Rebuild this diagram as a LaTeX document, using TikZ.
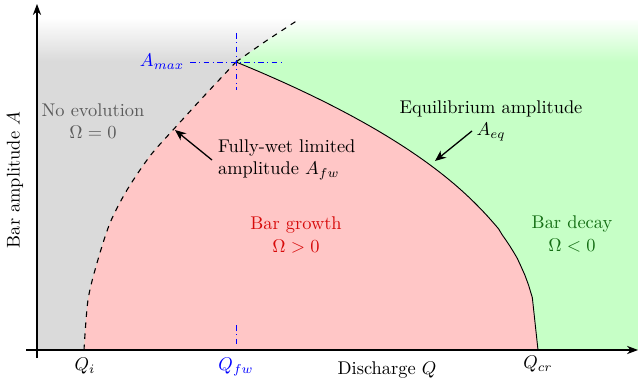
\documentclass[tikz,border=0pt]{standalone}
\usetikzlibrary{arrows.meta,fadings}
\tikzfading[name=topfade, top color=transparent!0, bottom color=transparent!100]
\definecolor{greyfill}{RGB}{218,218,218}
\definecolor{redfill}{RGB}{255,198,198}
\definecolor{greenfill}{RGB}{198,255,198}
\definecolor{greentext}{RGB}{20,110,20}
\definecolor{redtext}{RGB}{215,10,10}
\definecolor{greytext}{RGB}{90,90,90}
\begin{document}
\begin{tikzpicture}[x=0.5435pt,y=-0.5435pt,
  axis/.style={line width=0.6pt,-{Stealth[length=6pt,width=4.5pt]}},
  limline/.style={dashed,line width=0.6pt},
  eqline/.style={line width=0.5pt},
  marker/.style={blue,dash dot,line width=0.5pt},
  note/.style={line width=0.7pt,-{Stealth[length=6pt,width=5pt]}},
  lbl/.style={inner sep=1pt,font=\fontsize{10}{12}\selectfont}]
\useasboundingbox (0,0) rectangle (638,381);
% regions
\fill[greenfill] (37,20) rectangle (638,350);
\fill[greyfill] (37,350) -- (84,350)
  -- plot[smooth] coordinates {(84,350) (88,300) (97,263) (110,223) (127,190) (150,156) (173,130) (205,95) (236,62)}
  -- plot[smooth] coordinates {(236,62) (266,41) (300,19)}
  -- (37,19) -- cycle;
\fill[redfill] (84,350)
  -- plot[smooth] coordinates {(84,350) (88,300) (97,263) (110,223) (127,190) (150,156) (173,130) (205,95) (236,62)}
  -- plot[domain=1:0.018,samples=80,variable=\t] ({538-302*\t},{350-288*(\t)^0.43})
  -- (538,350) -- cycle;
\fill[white,path fading=topfade] (37,18) rectangle (638,62);
% curves
\draw[limline] plot[smooth] coordinates {(84,350) (88,300) (97,263) (110,223) (127,190) (150,156) (173,130) (205,95) (236,62)};
\draw[limline] plot[smooth] coordinates {(236,62) (266,41) (298,20)};
\draw[eqline] plot[domain=1:0.018,samples=80,variable=\t] ({538-302*\t},{350-288*(\t)^0.43}) -- (538,350);
% axes
\coordinate (yb) at (37,358);
\coordinate (yt) at (37,4);
\coordinate (xl) at (26,350);
\coordinate (xr) at (638,350);
\draw[axis] (yb) -- (yt);
\draw[axis] (xl) -- (xr);
% markers
\coordinate (mh1) at (190,62);
\coordinate (mh2) at (282,62);
\coordinate (mv1) at (236,33);
\coordinate (mv2) at (236,90);
\coordinate (mq1) at (236,325);
\coordinate (mq2) at (236,346);
\draw[marker] (mh1) -- (mh2);
\draw[marker] (mv1) -- (mv2);
\draw[marker] (mq1) -- (mq2);
% labels
\node[lbl,blue] (amax) at (162,62) {$A_{max}$};
\node[lbl] (qi) at (85,366) {$Q_i$};
\node[lbl,blue] (qfw) at (236,367) {$Q_{fw}$};
\node[lbl] (qcr) at (538,364) {$Q_{cr}$};
\node[lbl] (xlab) at (387,370) {Discharge $Q$};
\node[lbl,rotate=90] (ylab) at (15,180) {Bar amplitude $A$};
\node[lbl,greytext,align=center] (noev) at (93,121) {No evolution\\$\Omega=0$};
\node[lbl,redtext,align=center] (grow) at (296,235) {Bar growth\\$\Omega>0$};
\node[lbl,greentext,align=center] (decay) at (572,234) {Bar decay\\$\Omega<0$};
\node[lbl,align=left,anchor=west] (fw) at (216,160) {Fully-wet limited\\amplitude $A_{fw}$};
\node[lbl,align=center] (eq) at (491,121) {Equilibrium amplitude\\$A_{eq}$};
% annotation arrows
\coordinate (fwa) at (212,160);
\coordinate (fwb) at (175,130);
\coordinate (eqa) at (472,131);
\coordinate (eqb) at (435,161);
\draw[note] (fwa) -- (fwb);
\draw[note] (eqa) -- (eqb);
\end{tikzpicture}
\end{document}
